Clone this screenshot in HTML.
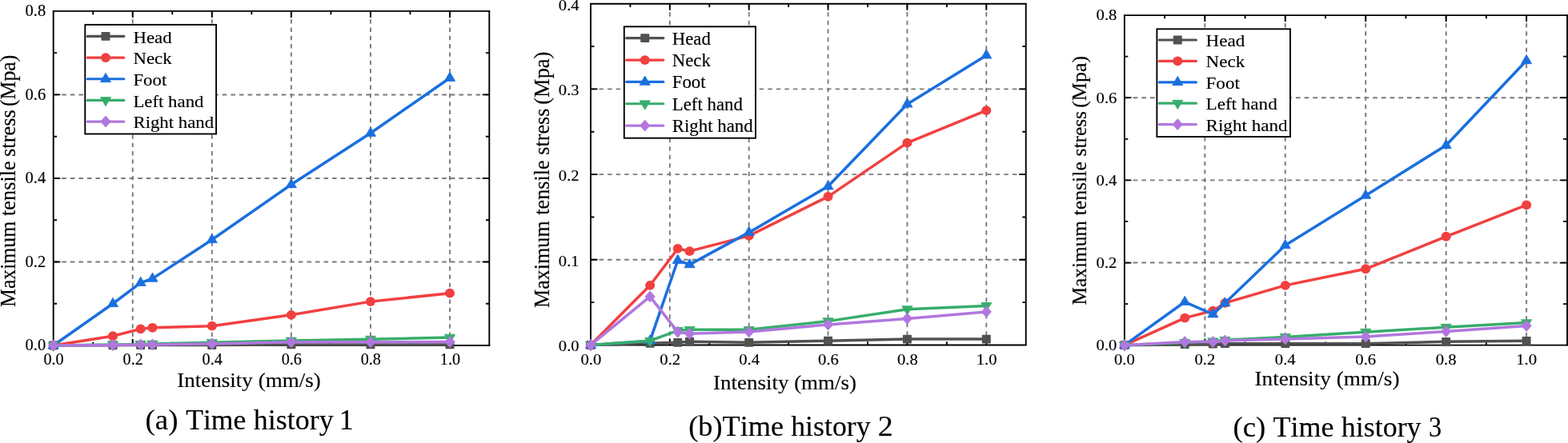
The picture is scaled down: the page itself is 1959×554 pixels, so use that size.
<!DOCTYPE html>
<html lang="en">
<head>
<meta charset="utf-8">
<title>Maximum tensile stress vs intensity</title>
<style>
html,body{margin:0;padding:0;background:#fff;}
body{width:1959px;height:554px;overflow:hidden;}
svg{display:block;}
svg text{font-family:"Liberation Serif","Times New Roman",serif;fill:#000;font-kerning:none;stroke:#000;stroke-width:0.15px;stroke-linejoin:round;}
</style>
</head>
<body>
<svg width="1959" height="554" viewBox="0 0 1959 554">
<rect x="0" y="0" width="1959" height="554" fill="#fff"/>
<g id="chart1">
<path d="M165.76,13.9V432M264.82,13.9V432M363.88,13.9V432M462.94,13.9V432M562,13.9V432" fill="none" stroke="#7a7a7a" stroke-width="1.9" stroke-dasharray="5.4 4.9"/>
<path d="M66.7,327.48H611.3M66.7,222.95H611.3M66.7,118.43H611.3" fill="none" stroke="#7a7a7a" stroke-width="1.9" stroke-dasharray="5.6 4.956"/>
<path d="M116.23,432v-4.3M116.23,13.9v4.3M165.76,432v-8.1M165.76,13.9v8.1M215.29,432v-4.3M215.29,13.9v4.3M264.82,432v-8.1M264.82,13.9v8.1M314.35,432v-4.3M314.35,13.9v4.3M363.88,432v-8.1M363.88,13.9v8.1M413.41,432v-4.3M413.41,13.9v4.3M462.94,432v-8.1M462.94,13.9v8.1M512.47,432v-4.3M512.47,13.9v4.3M562,432v-8.1M562,13.9v8.1" fill="none" stroke="#000" stroke-width="1.9"/>
<path d="M66.7,379.74h4.4M611.3,379.74h-4.4M66.7,327.48h8.6M611.3,327.48h-8.6M66.7,275.21h4.4M611.3,275.21h-4.4M66.7,222.95h8.6M611.3,222.95h-8.6M66.7,170.69h4.4M611.3,170.69h-4.4M66.7,118.42h8.6M611.3,118.42h-8.6M66.7,66.16h4.4M611.3,66.16h-4.4" fill="none" stroke="#000" stroke-width="1.9"/>
<path d="M65.75,13.9H612.25M65.75,432H612.25" fill="none" stroke="#000" stroke-width="1.9"/>
<path d="M66.7,13.9V432M611.3,13.9V432" fill="none" stroke="#000" stroke-width="1.9"/>
<path d="M66.7,432 L141,431.74 L175.67,431.48 L190.53,431.48 L264.82,431.48 L363.88,430.95 L462.94,430.95 L562,430.95" fill="none" stroke="#515151" stroke-width="3.5" stroke-linejoin="round" stroke-linecap="round"/>
<rect x="61.2" y="426.6" width="11" height="10.8" rx="0.8" fill="#515151"/>
<rect x="135.5" y="426.34" width="11" height="10.8" rx="0.8" fill="#515151"/>
<rect x="170.17" y="426.08" width="11" height="10.8" rx="0.8" fill="#515151"/>
<rect x="185.03" y="426.08" width="11" height="10.8" rx="0.8" fill="#515151"/>
<rect x="259.32" y="426.08" width="11" height="10.8" rx="0.8" fill="#515151"/>
<rect x="358.38" y="425.55" width="11" height="10.8" rx="0.8" fill="#515151"/>
<rect x="457.44" y="425.55" width="11" height="10.8" rx="0.8" fill="#515151"/>
<rect x="556.5" y="425.55" width="11" height="10.8" rx="0.8" fill="#515151"/>
<path d="M66.7,432 L141,420.24 L175.67,411.36 L190.53,409.79 L264.82,407.7 L363.88,393.85 L462.94,377.12 L562,366.67" fill="none" stroke="#F14040" stroke-width="3.5" stroke-linejoin="round" stroke-linecap="round"/>
<ellipse cx="66.7" cy="432" rx="6.05" ry="5.9" fill="#F14040"/>
<ellipse cx="141" cy="420.24" rx="6.05" ry="5.9" fill="#F14040"/>
<ellipse cx="175.67" cy="411.36" rx="6.05" ry="5.9" fill="#F14040"/>
<ellipse cx="190.53" cy="409.79" rx="6.05" ry="5.9" fill="#F14040"/>
<ellipse cx="264.82" cy="407.7" rx="6.05" ry="5.9" fill="#F14040"/>
<ellipse cx="363.88" cy="393.85" rx="6.05" ry="5.9" fill="#F14040"/>
<ellipse cx="462.94" cy="377.12" rx="6.05" ry="5.9" fill="#F14040"/>
<ellipse cx="562" cy="366.67" rx="6.05" ry="5.9" fill="#F14040"/>
<path d="M66.7,432 L141,379.74 L175.67,353.61 L190.53,348.38 L264.82,299.78 L363.88,230.79 L462.94,166.51 L562,97.52" fill="none" stroke="#1A6FDF" stroke-width="3.5" stroke-linejoin="round" stroke-linecap="round"/>
<polygon points="66.7,424.6 73.3,435.9 60.1,435.9" fill="#1A6FDF" stroke="#1A6FDF" stroke-width="0.8" stroke-linejoin="round"/>
<polygon points="141,372.34 147.59,383.64 134.4,383.64" fill="#1A6FDF" stroke="#1A6FDF" stroke-width="0.8" stroke-linejoin="round"/>
<polygon points="175.67,346.21 182.27,357.51 169.07,357.51" fill="#1A6FDF" stroke="#1A6FDF" stroke-width="0.8" stroke-linejoin="round"/>
<polygon points="190.53,340.98 197.12,352.28 183.93,352.28" fill="#1A6FDF" stroke="#1A6FDF" stroke-width="0.8" stroke-linejoin="round"/>
<polygon points="264.82,292.38 271.42,303.68 258.22,303.68" fill="#1A6FDF" stroke="#1A6FDF" stroke-width="0.8" stroke-linejoin="round"/>
<polygon points="363.88,223.39 370.48,234.69 357.28,234.69" fill="#1A6FDF" stroke="#1A6FDF" stroke-width="0.8" stroke-linejoin="round"/>
<polygon points="462.94,159.11 469.54,170.41 456.34,170.41" fill="#1A6FDF" stroke="#1A6FDF" stroke-width="0.8" stroke-linejoin="round"/>
<polygon points="562,90.12 568.6,101.42 555.4,101.42" fill="#1A6FDF" stroke="#1A6FDF" stroke-width="0.8" stroke-linejoin="round"/>
<path d="M66.7,432 L141,430.95 L175.67,430.43 L190.53,429.91 L264.82,428.34 L363.88,425.99 L462.94,424.16 L562,422.07" fill="none" stroke="#37AD6B" stroke-width="3.5" stroke-linejoin="round" stroke-linecap="round"/>
<polygon points="60.1,428.1 73.3,428.1 66.7,439.4" fill="#37AD6B" stroke="#37AD6B" stroke-width="0.8" stroke-linejoin="round"/>
<polygon points="134.4,427.05 147.59,427.05 141,438.35" fill="#37AD6B" stroke="#37AD6B" stroke-width="0.8" stroke-linejoin="round"/>
<polygon points="169.07,426.53 182.27,426.53 175.67,437.83" fill="#37AD6B" stroke="#37AD6B" stroke-width="0.8" stroke-linejoin="round"/>
<polygon points="183.93,426.01 197.12,426.01 190.53,437.31" fill="#37AD6B" stroke="#37AD6B" stroke-width="0.8" stroke-linejoin="round"/>
<polygon points="258.22,424.44 271.42,424.44 264.82,435.74" fill="#37AD6B" stroke="#37AD6B" stroke-width="0.8" stroke-linejoin="round"/>
<polygon points="357.28,422.09 370.48,422.09 363.88,433.39" fill="#37AD6B" stroke="#37AD6B" stroke-width="0.8" stroke-linejoin="round"/>
<polygon points="456.34,420.26 469.54,420.26 462.94,431.56" fill="#37AD6B" stroke="#37AD6B" stroke-width="0.8" stroke-linejoin="round"/>
<polygon points="555.4,418.17 568.6,418.17 562,429.47" fill="#37AD6B" stroke="#37AD6B" stroke-width="0.8" stroke-linejoin="round"/>
<path d="M66.7,432 L141,431.48 L175.67,430.95 L190.53,430.95 L264.82,429.91 L363.88,427.82 L462.94,427.82 L562,427.56" fill="none" stroke="#B177DE" stroke-width="3.5" stroke-linejoin="round" stroke-linecap="round"/>
<polygon points="66.7,425 72.9,432 66.7,439 60.5,432" fill="#B177DE" stroke="#B177DE" stroke-width="0.8" stroke-linejoin="round"/>
<polygon points="141,424.48 147.19,431.48 141,438.48 134.8,431.48" fill="#B177DE" stroke="#B177DE" stroke-width="0.8" stroke-linejoin="round"/>
<polygon points="175.67,423.95 181.87,430.95 175.67,437.95 169.47,430.95" fill="#B177DE" stroke="#B177DE" stroke-width="0.8" stroke-linejoin="round"/>
<polygon points="190.53,423.95 196.72,430.95 190.53,437.95 184.33,430.95" fill="#B177DE" stroke="#B177DE" stroke-width="0.8" stroke-linejoin="round"/>
<polygon points="264.82,422.91 271.02,429.91 264.82,436.91 258.62,429.91" fill="#B177DE" stroke="#B177DE" stroke-width="0.8" stroke-linejoin="round"/>
<polygon points="363.88,420.82 370.08,427.82 363.88,434.82 357.68,427.82" fill="#B177DE" stroke="#B177DE" stroke-width="0.8" stroke-linejoin="round"/>
<polygon points="462.94,420.82 469.14,427.82 462.94,434.82 456.74,427.82" fill="#B177DE" stroke="#B177DE" stroke-width="0.8" stroke-linejoin="round"/>
<polygon points="562,420.56 568.2,427.56 562,434.56 555.8,427.56" fill="#B177DE" stroke="#B177DE" stroke-width="0.8" stroke-linejoin="round"/>
<rect x="106.3" y="30.9" width="163.8" height="136.6" fill="#fff" stroke="#000" stroke-width="1.9"/>
<path d="M109.2,45.45H154.8" stroke="#515151" stroke-width="3.2" stroke-linecap="round" fill="none"/>
<rect x="126.5" y="40.05" width="11" height="10.8" rx="0.8" fill="#515151"/>
<text transform="translate(166.41,53.75) scale(1,0.93)" font-size="22.83">Head</text>
<path d="M109.2,72.1H154.8" stroke="#F14040" stroke-width="3.2" stroke-linecap="round" fill="none"/>
<ellipse cx="132" cy="72.1" rx="6.05" ry="5.9" fill="#F14040"/>
<text transform="translate(166.41,80.4) scale(1,0.93)" font-size="22.83">Neck</text>
<path d="M109.2,98.75H154.8" stroke="#1A6FDF" stroke-width="3.2" stroke-linecap="round" fill="none"/>
<polygon points="132,91.35 138.6,102.65 125.4,102.65" fill="#1A6FDF" stroke="#1A6FDF" stroke-width="0.8" stroke-linejoin="round"/>
<text transform="translate(166.41,107.05) scale(1,0.93)" font-size="22.83">Foot</text>
<path d="M109.2,125.4H154.8" stroke="#37AD6B" stroke-width="3.2" stroke-linecap="round" fill="none"/>
<polygon points="125.4,121.5 138.6,121.5 132,132.8" fill="#37AD6B" stroke="#37AD6B" stroke-width="0.8" stroke-linejoin="round"/>
<text transform="translate(166.41,133.7) scale(1,0.93)" font-size="22.83">Left hand</text>
<path d="M109.2,152.05H154.8" stroke="#B177DE" stroke-width="3.2" stroke-linecap="round" fill="none"/>
<polygon points="132,145.05 138.2,152.05 132,159.05 125.8,152.05" fill="#B177DE" stroke="#B177DE" stroke-width="0.8" stroke-linejoin="round"/>
<text transform="translate(166.41,160.35) scale(1,0.93)" font-size="22.83">Right hand</text>
<text x="67.1" y="455.7" font-size="20.2" text-anchor="middle">0.0</text>
<text x="166.16" y="455.7" font-size="20.2" text-anchor="middle">0.2</text>
<text x="265.22" y="455.7" font-size="20.2" text-anchor="middle">0.4</text>
<text x="364.28" y="455.7" font-size="20.2" text-anchor="middle">0.6</text>
<text x="463.34" y="455.7" font-size="20.2" text-anchor="middle">0.8</text>
<text x="562.4" y="455.7" font-size="20.2" text-anchor="middle">1.0</text>
<text x="57.2" y="438.1" font-size="20.5" text-anchor="end">0.0</text>
<text x="57.2" y="333.58" font-size="20.5" text-anchor="end">0.2</text>
<text x="57.2" y="229.05" font-size="20.5" text-anchor="end">0.4</text>
<text x="57.2" y="124.53" font-size="20.5" text-anchor="end">0.6</text>
<text x="57.2" y="20" font-size="20.5" text-anchor="end">0.8</text>
<text transform="translate(221.15,483.8) scale(1,0.94)" font-size="27.07">Intensity (mm/s)</text>
<text transform="translate(18.6,554) rotate(-90) scale(1,1.03)" font-size="25.73"><tspan x="170.13" textLength="107.06" lengthAdjust="spacingAndGlyphs">Maximum</tspan> <tspan x="284.04" textLength="68.78" lengthAdjust="spacingAndGlyphs">tensile</tspan> <tspan x="358.05" textLength="58.64" lengthAdjust="spacingAndGlyphs">stress</tspan> <tspan x="420.94" textLength="64.46" lengthAdjust="spacingAndGlyphs">(Mpa)</tspan></text>
<text y="536.7" font-size="36"><tspan x="181.44" textLength="41.03" lengthAdjust="spacingAndGlyphs">(a)</tspan> <tspan x="232.18" textLength="75.25" lengthAdjust="spacingAndGlyphs">Time</tspan> <tspan x="316.84" textLength="99.94" lengthAdjust="spacingAndGlyphs">history</tspan> <tspan x="423.86">1</tspan></text>
</g>
<g id="chart2">
<path d="M836.86,4.7V431.5M935.72,4.7V431.5M1034.58,4.7V431.5M1133.44,4.7V431.5M1232.3,4.7V431.5" fill="none" stroke="#7a7a7a" stroke-width="1.9" stroke-dasharray="5.5 5.0"/>
<path d="M738,324.8H1281.73M738,218.1H1281.73M738,111.4H1281.73" fill="none" stroke="#7a7a7a" stroke-width="1.9" stroke-dasharray="5.6 4.935"/>
<path d="M787.43,431.5v-4.3M787.43,4.7v4.3M836.86,431.5v-8.1M836.86,4.7v8.1M886.29,431.5v-4.3M886.29,4.7v4.3M935.72,431.5v-8.1M935.72,4.7v8.1M985.15,431.5v-4.3M985.15,4.7v4.3M1034.58,431.5v-8.1M1034.58,4.7v8.1M1084.01,431.5v-4.3M1084.01,4.7v4.3M1133.44,431.5v-8.1M1133.44,4.7v8.1M1182.87,431.5v-4.3M1182.87,4.7v4.3M1232.3,431.5v-8.1M1232.3,4.7v8.1" fill="none" stroke="#000" stroke-width="1.9"/>
<path d="M738,378.15h4.4M1281.73,378.15h-4.4M738,324.8h8.6M1281.73,324.8h-8.6M738,271.45h4.4M1281.73,271.45h-4.4M738,218.1h8.6M1281.73,218.1h-8.6M738,164.75h4.4M1281.73,164.75h-4.4M738,111.4h8.6M1281.73,111.4h-8.6M738,58.05h4.4M1281.73,58.05h-4.4" fill="none" stroke="#000" stroke-width="1.9"/>
<path d="M737.05,4.7H1282.68M737.05,431.5H1282.68" fill="none" stroke="#000" stroke-width="1.9"/>
<path d="M738,4.7V431.5M1281.73,4.7V431.5" fill="none" stroke="#000" stroke-width="1.9"/>
<path d="M738,431.5 L812.14,429.37 L846.75,428.3 L861.58,427.23 L935.72,428.3 L1034.58,426.17 L1133.44,424.03 L1232.3,424.03" fill="none" stroke="#515151" stroke-width="3.5" stroke-linejoin="round" stroke-linecap="round"/>
<rect x="732.5" y="426.1" width="11" height="10.8" rx="0.8" fill="#515151"/>
<rect x="806.64" y="423.97" width="11" height="10.8" rx="0.8" fill="#515151"/>
<rect x="841.25" y="422.9" width="11" height="10.8" rx="0.8" fill="#515151"/>
<rect x="856.08" y="421.83" width="11" height="10.8" rx="0.8" fill="#515151"/>
<rect x="930.22" y="422.9" width="11" height="10.8" rx="0.8" fill="#515151"/>
<rect x="1029.08" y="420.77" width="11" height="10.8" rx="0.8" fill="#515151"/>
<rect x="1127.94" y="418.63" width="11" height="10.8" rx="0.8" fill="#515151"/>
<rect x="1226.8" y="418.63" width="11" height="10.8" rx="0.8" fill="#515151"/>
<path d="M738,431.5 L812.14,356.81 L846.75,310.93 L861.58,314.13 L935.72,294.92 L1034.58,245.84 L1133.44,178.62 L1232.3,138.07" fill="none" stroke="#F14040" stroke-width="3.5" stroke-linejoin="round" stroke-linecap="round"/>
<ellipse cx="738" cy="431.5" rx="6.05" ry="5.9" fill="#F14040"/>
<ellipse cx="812.14" cy="356.81" rx="6.05" ry="5.9" fill="#F14040"/>
<ellipse cx="846.75" cy="310.93" rx="6.05" ry="5.9" fill="#F14040"/>
<ellipse cx="861.58" cy="314.13" rx="6.05" ry="5.9" fill="#F14040"/>
<ellipse cx="935.72" cy="294.92" rx="6.05" ry="5.9" fill="#F14040"/>
<ellipse cx="1034.58" cy="245.84" rx="6.05" ry="5.9" fill="#F14040"/>
<ellipse cx="1133.44" cy="178.62" rx="6.05" ry="5.9" fill="#F14040"/>
<ellipse cx="1232.3" cy="138.07" rx="6.05" ry="5.9" fill="#F14040"/>
<path d="M738,431.5 L812.14,426.17 L846.75,325.55 L861.58,330.88 L935.72,290.66 L1034.58,233.04 L1133.44,130.18 L1232.3,69.15" fill="none" stroke="#1A6FDF" stroke-width="3.5" stroke-linejoin="round" stroke-linecap="round"/>
<polygon points="738,424.1 744.6,435.4 731.4,435.4" fill="#1A6FDF" stroke="#1A6FDF" stroke-width="0.8" stroke-linejoin="round"/>
<polygon points="812.14,418.77 818.75,430.06 805.54,430.06" fill="#1A6FDF" stroke="#1A6FDF" stroke-width="0.8" stroke-linejoin="round"/>
<polygon points="846.75,318.15 853.35,329.45 840.15,329.45" fill="#1A6FDF" stroke="#1A6FDF" stroke-width="0.8" stroke-linejoin="round"/>
<polygon points="861.58,323.48 868.18,334.78 854.98,334.78" fill="#1A6FDF" stroke="#1A6FDF" stroke-width="0.8" stroke-linejoin="round"/>
<polygon points="935.72,283.26 942.32,294.56 929.12,294.56" fill="#1A6FDF" stroke="#1A6FDF" stroke-width="0.8" stroke-linejoin="round"/>
<polygon points="1034.58,225.64 1041.18,236.94 1027.98,236.94" fill="#1A6FDF" stroke="#1A6FDF" stroke-width="0.8" stroke-linejoin="round"/>
<polygon points="1133.44,122.78 1140.04,134.08 1126.84,134.08" fill="#1A6FDF" stroke="#1A6FDF" stroke-width="0.8" stroke-linejoin="round"/>
<polygon points="1232.3,61.75 1238.9,73.05 1225.7,73.05" fill="#1A6FDF" stroke="#1A6FDF" stroke-width="0.8" stroke-linejoin="round"/>
<path d="M738,431.5 L812.14,426.17 L846.75,413.36 L861.58,412.29 L935.72,412.29 L1034.58,401.62 L1133.44,386.69 L1232.3,382.42" fill="none" stroke="#37AD6B" stroke-width="3.5" stroke-linejoin="round" stroke-linecap="round"/>
<polygon points="731.4,427.6 744.6,427.6 738,438.9" fill="#37AD6B" stroke="#37AD6B" stroke-width="0.8" stroke-linejoin="round"/>
<polygon points="805.54,422.27 818.75,422.27 812.14,433.56" fill="#37AD6B" stroke="#37AD6B" stroke-width="0.8" stroke-linejoin="round"/>
<polygon points="840.15,409.46 853.35,409.46 846.75,420.76" fill="#37AD6B" stroke="#37AD6B" stroke-width="0.8" stroke-linejoin="round"/>
<polygon points="854.98,408.39 868.18,408.39 861.58,419.69" fill="#37AD6B" stroke="#37AD6B" stroke-width="0.8" stroke-linejoin="round"/>
<polygon points="929.12,408.39 942.32,408.39 935.72,419.69" fill="#37AD6B" stroke="#37AD6B" stroke-width="0.8" stroke-linejoin="round"/>
<polygon points="1027.98,397.72 1041.18,397.72 1034.58,409.02" fill="#37AD6B" stroke="#37AD6B" stroke-width="0.8" stroke-linejoin="round"/>
<polygon points="1126.84,382.79 1140.04,382.79 1133.44,394.09" fill="#37AD6B" stroke="#37AD6B" stroke-width="0.8" stroke-linejoin="round"/>
<polygon points="1225.7,378.52 1238.9,378.52 1232.3,389.82" fill="#37AD6B" stroke="#37AD6B" stroke-width="0.8" stroke-linejoin="round"/>
<path d="M738,431.5 L812.14,370.89 L846.75,415.17 L861.58,417.31 L935.72,414.96 L1034.58,405.89 L1133.44,398.42 L1232.3,389.89" fill="none" stroke="#B177DE" stroke-width="3.5" stroke-linejoin="round" stroke-linecap="round"/>
<polygon points="738,424.5 744.2,431.5 738,438.5 731.8,431.5" fill="#B177DE" stroke="#B177DE" stroke-width="0.8" stroke-linejoin="round"/>
<polygon points="812.14,363.89 818.35,370.89 812.14,377.89 805.94,370.89" fill="#B177DE" stroke="#B177DE" stroke-width="0.8" stroke-linejoin="round"/>
<polygon points="846.75,408.17 852.95,415.17 846.75,422.17 840.55,415.17" fill="#B177DE" stroke="#B177DE" stroke-width="0.8" stroke-linejoin="round"/>
<polygon points="861.58,410.31 867.78,417.31 861.58,424.31 855.38,417.31" fill="#B177DE" stroke="#B177DE" stroke-width="0.8" stroke-linejoin="round"/>
<polygon points="935.72,407.96 941.92,414.96 935.72,421.96 929.52,414.96" fill="#B177DE" stroke="#B177DE" stroke-width="0.8" stroke-linejoin="round"/>
<polygon points="1034.58,398.89 1040.78,405.89 1034.58,412.89 1028.38,405.89" fill="#B177DE" stroke="#B177DE" stroke-width="0.8" stroke-linejoin="round"/>
<polygon points="1133.44,391.42 1139.64,398.42 1133.44,405.42 1127.24,398.42" fill="#B177DE" stroke="#B177DE" stroke-width="0.8" stroke-linejoin="round"/>
<polygon points="1232.3,382.89 1238.5,389.89 1232.3,396.89 1226.1,389.89" fill="#B177DE" stroke="#B177DE" stroke-width="0.8" stroke-linejoin="round"/>
<rect x="779.8" y="33.3" width="164.2" height="139.4" fill="#fff" stroke="#000" stroke-width="1.9"/>
<path d="M782.7,47.7H828.8" stroke="#515151" stroke-width="3.2" stroke-linecap="round" fill="none"/>
<rect x="800.25" y="42.3" width="11" height="10.8" rx="0.8" fill="#515151"/>
<text transform="translate(839.71,55.7) scale(1,0.99)" font-size="22.88">Head</text>
<path d="M782.7,75.05H828.8" stroke="#F14040" stroke-width="3.2" stroke-linecap="round" fill="none"/>
<ellipse cx="805.75" cy="75.05" rx="6.05" ry="5.9" fill="#F14040"/>
<text transform="translate(839.71,83.05) scale(1,0.99)" font-size="22.88">Neck</text>
<path d="M782.7,102.4H828.8" stroke="#1A6FDF" stroke-width="3.2" stroke-linecap="round" fill="none"/>
<polygon points="805.75,95 812.35,106.3 799.15,106.3" fill="#1A6FDF" stroke="#1A6FDF" stroke-width="0.8" stroke-linejoin="round"/>
<text transform="translate(839.71,110.4) scale(1,0.99)" font-size="22.88">Foot</text>
<path d="M782.7,129.75H828.8" stroke="#37AD6B" stroke-width="3.2" stroke-linecap="round" fill="none"/>
<polygon points="799.15,125.85 812.35,125.85 805.75,137.15" fill="#37AD6B" stroke="#37AD6B" stroke-width="0.8" stroke-linejoin="round"/>
<text transform="translate(839.71,137.75) scale(1,0.99)" font-size="22.88">Left hand</text>
<path d="M782.7,157.1H828.8" stroke="#B177DE" stroke-width="3.2" stroke-linecap="round" fill="none"/>
<polygon points="805.75,150.1 811.95,157.1 805.75,164.1 799.55,157.1" fill="#B177DE" stroke="#B177DE" stroke-width="0.8" stroke-linejoin="round"/>
<text transform="translate(839.71,165.1) scale(1,0.99)" font-size="22.88">Right hand</text>
<text transform="translate(738.4,455.9) scale(1,0.96)" font-size="20.7" text-anchor="middle">0.0</text>
<text transform="translate(837.26,455.9) scale(1,0.96)" font-size="20.7" text-anchor="middle">0.2</text>
<text transform="translate(936.12,455.9) scale(1,0.96)" font-size="20.7" text-anchor="middle">0.4</text>
<text transform="translate(1034.98,455.9) scale(1,0.96)" font-size="20.7" text-anchor="middle">0.6</text>
<text transform="translate(1133.84,455.9) scale(1,0.96)" font-size="20.7" text-anchor="middle">0.8</text>
<text transform="translate(1232.7,455.9) scale(1,0.96)" font-size="20.7" text-anchor="middle">1.0</text>
<text transform="translate(723.6,439.3) scale(1,0.95)" font-size="20.6" text-anchor="end">0.0</text>
<text transform="translate(723.6,332.6) scale(1,0.95)" font-size="20.6" text-anchor="end">0.1</text>
<text transform="translate(723.6,225.9) scale(1,0.95)" font-size="20.6" text-anchor="end">0.2</text>
<text transform="translate(723.6,119.2) scale(1,0.95)" font-size="20.6" text-anchor="end">0.3</text>
<text transform="translate(723.6,12.5) scale(1,0.95)" font-size="20.6" text-anchor="end">0.4</text>
<text transform="translate(890.96,486.9) scale(1,0.94)" font-size="27">Intensity (mm/s)</text>
<text transform="translate(685.7,554) rotate(-90) scale(1,1.02)" font-size="26.23"><tspan x="169.02" textLength="108.67" lengthAdjust="spacingAndGlyphs">Maximum</tspan> <tspan x="285.24" textLength="68.48" lengthAdjust="spacingAndGlyphs">tensile</tspan> <tspan x="360.36" textLength="58.12" lengthAdjust="spacingAndGlyphs">stress</tspan> <tspan x="423.31" textLength="66.11" lengthAdjust="spacingAndGlyphs">(Mpa)</tspan></text>
<text y="544.5" font-size="36"><tspan x="860.26" textLength="118.99" lengthAdjust="spacingAndGlyphs">(b)Time</tspan> <tspan x="988.14" textLength="99.54" lengthAdjust="spacingAndGlyphs">history</tspan> <tspan x="1096.89" textLength="19" lengthAdjust="spacingAndGlyphs">2</tspan></text>
</g>
<g id="chart3">
<path d="M1505.34,19V431.7M1605.78,19V431.7M1706.22,19V431.7M1806.66,19V431.7M1907.1,19V431.7" fill="none" stroke="#7a7a7a" stroke-width="1.9" stroke-dasharray="5.3 4.87"/>
<path d="M1404.9,328.52H1957.32M1404.9,225.35H1957.32M1404.9,122.18H1957.32" fill="none" stroke="#7a7a7a" stroke-width="1.9" stroke-dasharray="5.7 5.0"/>
<path d="M1455.12,431.7v-4.3M1455.12,19v4.3M1505.34,431.7v-8.1M1505.34,19v8.1M1555.56,431.7v-4.3M1555.56,19v4.3M1605.78,431.7v-8.1M1605.78,19v8.1M1656,431.7v-4.3M1656,19v4.3M1706.22,431.7v-8.1M1706.22,19v8.1M1756.44,431.7v-4.3M1756.44,19v4.3M1806.66,431.7v-8.1M1806.66,19v8.1M1856.88,431.7v-4.3M1856.88,19v4.3M1907.1,431.7v-8.1M1907.1,19v8.1" fill="none" stroke="#000" stroke-width="1.9"/>
<path d="M1404.9,380.11h4.4M1957.32,380.11h-4.4M1404.9,328.52h8.6M1957.32,328.52h-8.6M1404.9,276.94h4.4M1957.32,276.94h-4.4M1404.9,225.35h8.6M1957.32,225.35h-8.6M1404.9,173.76h4.4M1957.32,173.76h-4.4M1404.9,122.17h8.6M1957.32,122.17h-8.6M1404.9,70.59h4.4M1957.32,70.59h-4.4" fill="none" stroke="#000" stroke-width="1.75"/>
<path d="M1403.95,19H1958.27M1403.95,431.7H1958.27" fill="none" stroke="#000" stroke-width="1.75"/>
<path d="M1404.9,19V431.7" fill="none" stroke="#000" stroke-width="1.9"/>
<path d="M1958.1,18.12V432.57" fill="none" stroke="#000" stroke-width="2.0"/>
<path d="M1404.9,431.7 L1480.23,430.67 L1515.38,430.15 L1530.45,429.64 L1605.78,429.64 L1706.22,429.64 L1806.66,427.32 L1907.1,426.28" fill="none" stroke="#515151" stroke-width="3.5" stroke-linejoin="round" stroke-linecap="round"/>
<rect x="1399.4" y="426.3" width="11" height="10.8" rx="0.8" fill="#515151"/>
<rect x="1474.73" y="425.27" width="11" height="10.8" rx="0.8" fill="#515151"/>
<rect x="1509.88" y="424.75" width="11" height="10.8" rx="0.8" fill="#515151"/>
<rect x="1524.95" y="424.24" width="11" height="10.8" rx="0.8" fill="#515151"/>
<rect x="1600.28" y="424.24" width="11" height="10.8" rx="0.8" fill="#515151"/>
<rect x="1700.72" y="424.24" width="11" height="10.8" rx="0.8" fill="#515151"/>
<rect x="1801.16" y="421.92" width="11" height="10.8" rx="0.8" fill="#515151"/>
<rect x="1901.6" y="420.88" width="11" height="10.8" rx="0.8" fill="#515151"/>
<path d="M1404.9,431.7 L1480.23,397.65 L1515.38,388.62 L1530.45,378.82 L1605.78,356.9 L1706.22,336.26 L1806.66,295.77 L1907.1,256.3" fill="none" stroke="#F14040" stroke-width="3.5" stroke-linejoin="round" stroke-linecap="round"/>
<ellipse cx="1404.9" cy="431.7" rx="6.05" ry="5.9" fill="#F14040"/>
<ellipse cx="1480.23" cy="397.65" rx="6.05" ry="5.9" fill="#F14040"/>
<ellipse cx="1515.38" cy="388.62" rx="6.05" ry="5.9" fill="#F14040"/>
<ellipse cx="1530.45" cy="378.82" rx="6.05" ry="5.9" fill="#F14040"/>
<ellipse cx="1605.78" cy="356.9" rx="6.05" ry="5.9" fill="#F14040"/>
<ellipse cx="1706.22" cy="336.26" rx="6.05" ry="5.9" fill="#F14040"/>
<ellipse cx="1806.66" cy="295.77" rx="6.05" ry="5.9" fill="#F14040"/>
<ellipse cx="1907.1" cy="256.3" rx="6.05" ry="5.9" fill="#F14040"/>
<path d="M1404.9,431.7 L1480.23,377.53 L1515.38,393.01 L1530.45,379.08 L1605.78,306.86 L1706.22,244.44 L1806.66,181.76 L1907.1,75.75" fill="none" stroke="#1A6FDF" stroke-width="3.5" stroke-linejoin="round" stroke-linecap="round"/>
<polygon points="1404.9,424.3 1411.5,435.6 1398.3,435.6" fill="#1A6FDF" stroke="#1A6FDF" stroke-width="0.8" stroke-linejoin="round"/>
<polygon points="1480.23,370.13 1486.83,381.43 1473.63,381.43" fill="#1A6FDF" stroke="#1A6FDF" stroke-width="0.8" stroke-linejoin="round"/>
<polygon points="1515.38,385.61 1521.98,396.91 1508.78,396.91" fill="#1A6FDF" stroke="#1A6FDF" stroke-width="0.8" stroke-linejoin="round"/>
<polygon points="1530.45,371.68 1537.05,382.98 1523.85,382.98" fill="#1A6FDF" stroke="#1A6FDF" stroke-width="0.8" stroke-linejoin="round"/>
<polygon points="1605.78,299.46 1612.38,310.76 1599.18,310.76" fill="#1A6FDF" stroke="#1A6FDF" stroke-width="0.8" stroke-linejoin="round"/>
<polygon points="1706.22,237.04 1712.82,248.34 1699.62,248.34" fill="#1A6FDF" stroke="#1A6FDF" stroke-width="0.8" stroke-linejoin="round"/>
<polygon points="1806.66,174.36 1813.26,185.66 1800.06,185.66" fill="#1A6FDF" stroke="#1A6FDF" stroke-width="0.8" stroke-linejoin="round"/>
<polygon points="1907.1,68.35 1913.7,79.65 1900.5,79.65" fill="#1A6FDF" stroke="#1A6FDF" stroke-width="0.8" stroke-linejoin="round"/>
<path d="M1404.9,431.7 L1480.23,428.35 L1515.38,426.8 L1530.45,425.25 L1605.78,421.38 L1706.22,415.19 L1806.66,409.26 L1907.1,403.58" fill="none" stroke="#37AD6B" stroke-width="3.5" stroke-linejoin="round" stroke-linecap="round"/>
<polygon points="1398.3,427.8 1411.5,427.8 1404.9,439.1" fill="#37AD6B" stroke="#37AD6B" stroke-width="0.8" stroke-linejoin="round"/>
<polygon points="1473.63,424.45 1486.83,424.45 1480.23,435.75" fill="#37AD6B" stroke="#37AD6B" stroke-width="0.8" stroke-linejoin="round"/>
<polygon points="1508.78,422.9 1521.98,422.9 1515.38,434.2" fill="#37AD6B" stroke="#37AD6B" stroke-width="0.8" stroke-linejoin="round"/>
<polygon points="1523.85,421.35 1537.05,421.35 1530.45,432.65" fill="#37AD6B" stroke="#37AD6B" stroke-width="0.8" stroke-linejoin="round"/>
<polygon points="1599.18,417.48 1612.38,417.48 1605.78,428.78" fill="#37AD6B" stroke="#37AD6B" stroke-width="0.8" stroke-linejoin="round"/>
<polygon points="1699.62,411.29 1712.82,411.29 1706.22,422.59" fill="#37AD6B" stroke="#37AD6B" stroke-width="0.8" stroke-linejoin="round"/>
<polygon points="1800.06,405.36 1813.26,405.36 1806.66,416.66" fill="#37AD6B" stroke="#37AD6B" stroke-width="0.8" stroke-linejoin="round"/>
<polygon points="1900.5,399.68 1913.7,399.68 1907.1,410.98" fill="#37AD6B" stroke="#37AD6B" stroke-width="0.8" stroke-linejoin="round"/>
<path d="M1404.9,431.7 L1480.23,427.57 L1515.38,427.57 L1530.45,426.03 L1605.78,423.96 L1706.22,421.02 L1806.66,414.42 L1907.1,407.45" fill="none" stroke="#B177DE" stroke-width="3.5" stroke-linejoin="round" stroke-linecap="round"/>
<polygon points="1404.9,424.7 1411.1,431.7 1404.9,438.7 1398.7,431.7" fill="#B177DE" stroke="#B177DE" stroke-width="0.8" stroke-linejoin="round"/>
<polygon points="1480.23,420.57 1486.43,427.57 1480.23,434.57 1474.03,427.57" fill="#B177DE" stroke="#B177DE" stroke-width="0.8" stroke-linejoin="round"/>
<polygon points="1515.38,420.57 1521.58,427.57 1515.38,434.57 1509.18,427.57" fill="#B177DE" stroke="#B177DE" stroke-width="0.8" stroke-linejoin="round"/>
<polygon points="1530.45,419.03 1536.65,426.03 1530.45,433.03 1524.25,426.03" fill="#B177DE" stroke="#B177DE" stroke-width="0.8" stroke-linejoin="round"/>
<polygon points="1605.78,416.96 1611.98,423.96 1605.78,430.96 1599.58,423.96" fill="#B177DE" stroke="#B177DE" stroke-width="0.8" stroke-linejoin="round"/>
<polygon points="1706.22,414.02 1712.42,421.02 1706.22,428.02 1700.02,421.02" fill="#B177DE" stroke="#B177DE" stroke-width="0.8" stroke-linejoin="round"/>
<polygon points="1806.66,407.42 1812.86,414.42 1806.66,421.42 1800.46,414.42" fill="#B177DE" stroke="#B177DE" stroke-width="0.8" stroke-linejoin="round"/>
<polygon points="1907.1,400.45 1913.3,407.45 1907.1,414.45 1900.9,407.45" fill="#B177DE" stroke="#B177DE" stroke-width="0.8" stroke-linejoin="round"/>
<rect x="1445.4" y="36.3" width="166.6" height="134.7" fill="#fff" stroke="#000" stroke-width="1.9"/>
<path d="M1448.2,50H1494.4" stroke="#515151" stroke-width="3.2" stroke-linecap="round" fill="none"/>
<rect x="1465.8" y="44.6" width="11" height="10.8" rx="0.8" fill="#515151"/>
<text transform="translate(1506.51,57.9) scale(1,0.935)" font-size="23.13">Head</text>
<path d="M1448.2,76.4H1494.4" stroke="#F14040" stroke-width="3.2" stroke-linecap="round" fill="none"/>
<ellipse cx="1471.3" cy="76.4" rx="6.05" ry="5.9" fill="#F14040"/>
<text transform="translate(1506.51,84.3) scale(1,0.935)" font-size="23.13">Neck</text>
<path d="M1448.2,102.8H1494.4" stroke="#1A6FDF" stroke-width="3.2" stroke-linecap="round" fill="none"/>
<polygon points="1471.3,95.4 1477.9,106.7 1464.7,106.7" fill="#1A6FDF" stroke="#1A6FDF" stroke-width="0.8" stroke-linejoin="round"/>
<text transform="translate(1506.51,110.7) scale(1,0.935)" font-size="23.13">Foot</text>
<path d="M1448.2,129.2H1494.4" stroke="#37AD6B" stroke-width="3.2" stroke-linecap="round" fill="none"/>
<polygon points="1464.7,125.3 1477.9,125.3 1471.3,136.6" fill="#37AD6B" stroke="#37AD6B" stroke-width="0.8" stroke-linejoin="round"/>
<text transform="translate(1506.51,137.1) scale(1,0.935)" font-size="23.13">Left hand</text>
<path d="M1448.2,155.6H1494.4" stroke="#B177DE" stroke-width="3.2" stroke-linecap="round" fill="none"/>
<polygon points="1471.3,148.6 1477.5,155.6 1471.3,162.6 1465.1,155.6" fill="#B177DE" stroke="#B177DE" stroke-width="0.8" stroke-linejoin="round"/>
<text transform="translate(1506.51,163.5) scale(1,0.935)" font-size="23.13">Right hand</text>
<text transform="translate(1404.9,455.9) scale(1,0.95)" font-size="20.7" text-anchor="middle">0.0</text>
<text transform="translate(1505.34,455.9) scale(1,0.95)" font-size="20.7" text-anchor="middle">0.2</text>
<text transform="translate(1605.78,455.9) scale(1,0.95)" font-size="20.7" text-anchor="middle">0.4</text>
<text transform="translate(1706.22,455.9) scale(1,0.95)" font-size="20.7" text-anchor="middle">0.6</text>
<text transform="translate(1806.66,455.9) scale(1,0.95)" font-size="20.7" text-anchor="middle">0.8</text>
<text transform="translate(1907.1,455.9) scale(1,0.95)" font-size="20.7" text-anchor="middle">1.0</text>
<text transform="translate(1395.4,438.1) scale(1,0.95)" font-size="20.7" text-anchor="end">0.0</text>
<text transform="translate(1395.4,334.92) scale(1,0.95)" font-size="20.7" text-anchor="end">0.2</text>
<text transform="translate(1395.4,231.75) scale(1,0.95)" font-size="20.7" text-anchor="end">0.4</text>
<text transform="translate(1395.4,128.58) scale(1,0.95)" font-size="20.7" text-anchor="end">0.6</text>
<text transform="translate(1395.4,25.4) scale(1,0.95)" font-size="20.7" text-anchor="end">0.8</text>
<text transform="translate(1567.44,482.2) scale(1,0.94)" font-size="27.29">Intensity (mm/s)</text>
<text transform="translate(1357.4,554) rotate(-90) scale(1,0.98)" font-size="25.45"><tspan x="172.54" textLength="105.44" lengthAdjust="spacingAndGlyphs">Maximum</tspan> <tspan x="284.54" textLength="67.36" lengthAdjust="spacingAndGlyphs">tensile</tspan> <tspan x="358.48" textLength="56.57" lengthAdjust="spacingAndGlyphs">stress</tspan> <tspan x="419.23" textLength="64.87" lengthAdjust="spacingAndGlyphs">(Mpa)</tspan></text>
<text y="545.7" font-size="36"><tspan x="1540.55" textLength="40.82" lengthAdjust="spacingAndGlyphs">(c)</tspan> <tspan x="1590.57" textLength="76.07" lengthAdjust="spacingAndGlyphs">Time</tspan> <tspan x="1675.74" textLength="99.84" lengthAdjust="spacingAndGlyphs">history</tspan> <tspan x="1784.97" textLength="16.12" lengthAdjust="spacingAndGlyphs">3</tspan></text>
</g>
</svg>
</body>
</html>
